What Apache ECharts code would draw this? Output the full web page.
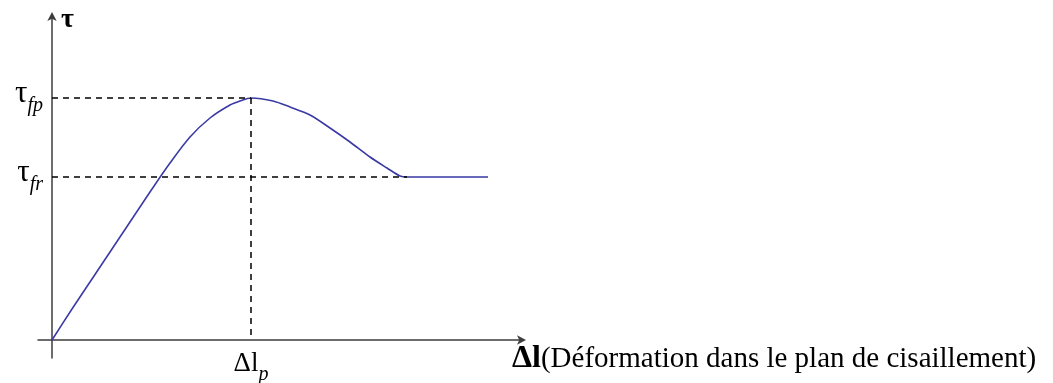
<!DOCTYPE html>
<html><head><meta charset="utf-8">
<script src="https://cdn.jsdelivr.net/npm/echarts@6/dist/echarts.min.js"></script>
<style>html,body{margin:0;padding:0;background:#fff}#c{width:1053px;height:383px}</style>
</head><body><div id="c"></div>
<script>
// Curve values (arbitrary units)
const curveX = [0, 20, 40, 60, 80, 100, 118, 138, 158, 178, 188, 199, 221, 238, 258, 278, 298, 318, 335, 348, 355, 436];
const curveY = [0, 31, 61, 91, 121, 151, 177, 203, 222, 235, 239, 242, 239, 233, 225, 212, 198, 183, 172, 164, 163, 163];
const tauFp = 242;      // peak strength
const tauFr = 163;      // residual strength
const dlP = 199;        // deformation at peak
const tauFrStart = 355; // start of residual plateau
const xRange = [-14, 470];
const yRange = [-18, 324];
const yTickLabels = ['{t|τ}{s|fr}', '{t|τ}{s|fp}'];
const xTickLabel = '{t|Δl}{s|p}';
const xName = 'Δl';
const xNameRest = '(Déformation dans le plan de cisaillement)';
const yName = 'τ';

const serif = '"Liberation Serif","DejaVu Serif",serif';
const chart = echarts.init(document.getElementById('c'));
const axisCol = '#3c3c3c';
chart.setOption({
  animation: false,
  grid: {left: 38, top: 16, width: 484, height: 342, containLabel: false, outerBoundsMode: 'none'},
  xAxis: {
    type: 'value', min: xRange[0], max: xRange[1],
    axisLine: {onZero: true, lineStyle: {color: axisCol, width: 1.5}, symbol: ['none', 'arrow'], symbolSize: [7, 9], symbolOffset: [0, 4]},
    axisTick: {show: false}, splitLine: {show: false},
    axisLabel: {
      customValues: [dlP], margin: -8, formatter: () => xTickLabel,
      rich: {
        t: {fontFamily: serif, fontSize: 27, color: '#000'},
        s: {fontFamily: serif, fontSize: 20, fontStyle: 'italic', color: '#000', verticalAlign: 'bottom', padding: [0,0,-8,0]}
      }
    },
    name: '{b|' + xName + '}{r|' + xNameRest + '}',
    nameLocation: 'end', nameGap: -10,
    nameTextStyle: {
      align: 'left', verticalAlign: 'top', padding: [3, 0, 0, 0],
      rich: {
        b: {fontFamily: serif, fontSize: 32, fontWeight: 'bold', color: '#000'},
        r: {fontFamily: serif, fontSize: 29, color: '#000'}
      }
    }
  },
  yAxis: {
    type: 'value', min: yRange[0], max: yRange[1],
    axisLine: {onZero: true, lineStyle: {color: axisCol, width: 1.5}, symbol: ['none', 'arrow'], symbolSize: [7, 9], symbolOffset: [0, 4]},
    axisTick: {show: false}, splitLine: {show: false},
    axisLabel: {
      customValues: [tauFr, tauFp], margin: -5, padding: [0, 0, 8, 0],
      formatter: (v) => v === tauFr ? yTickLabels[0] : yTickLabels[1],
      rich: {
        t: {fontFamily: serif, fontSize: 31, color: '#000'},
        s: {fontFamily: serif, fontSize: 20, fontStyle: 'italic', color: '#000', verticalAlign: 'bottom', padding: [0,0,-6,0]}
      }
    },
    name: yName, nameLocation: 'end', nameGap: -4,
    nameTextStyle: {fontFamily: serif, fontSize: 28, fontWeight: 'bold', color: '#000', align: 'left', verticalAlign: 'middle', padding: [0, 0, 0, 9]}
  },
  series: [{
    type: 'line',
    data: curveX.map((x, i) => [x, curveY[i]]),
    showSymbol: false, smooth: 0.3,
    lineStyle: {color: '#3a3aa6', width: 1.6},
    markLine: {
      silent: true, symbol: 'none', label: {show: false},
      lineStyle: {color: '#000', type: [6, 5], width: 1.5},
      data: [
        [{coord: [0, tauFp]}, {coord: [dlP, tauFp]}],
        [{coord: [0, tauFr]}, {coord: [tauFrStart, tauFr]}],
        [{coord: [dlP, tauFp]}, {coord: [dlP, 0]}]
      ]
    }
  }]
});
</script></body></html>
